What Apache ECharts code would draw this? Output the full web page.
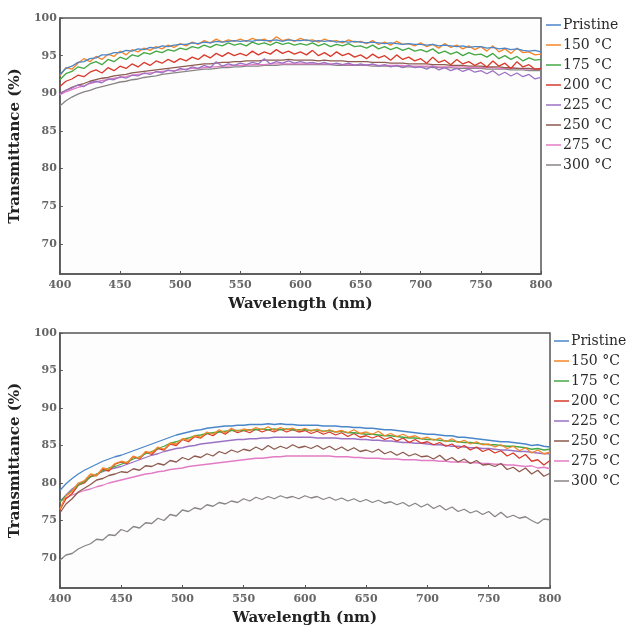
<!DOCTYPE html>
<html><head><meta charset="utf-8">
<script src="https://cdn.jsdelivr.net/npm/echarts@6/dist/echarts.min.js"></script>
<style>html,body{margin:0;padding:0;background:#fff}#c{width:630px;height:629px}</style>
</head><body><div id="c"></div>
<script>
const wavelengths = [400,405,410,415,420,425,430,435,440,445,450,455,460,465,470,475,480,485,490,495,500,505,510,515,520,525,530,535,540,545,550,555,560,565,570,575,580,585,590,595,600,605,610,615,620,625,630,635,640,645,650,655,660,665,670,675,680,685,690,695,700,705,710,715,720,725,730,735,740,745,750,755,760,765,770,775,780,785,790,795,800];
const seriesNames = ['Pristine','150 °C','175 °C','200 °C','225 °C','250 °C','275 °C','300 °C'];
const xTicks = [400,450,500,550,600,650,700,750,800];
const yTicks = [70,75,80,85,90,95,100];

// Top panel
const topPristine = [92.5,93.3,93.6,94.1,94.2,94.6,94.7,95.1,95.1,95.4, 95.4,95.7,95.6,95.9,95.8,96.1,96.0,96.3,96.2,96.4, 96.5,96.5,96.7,96.6,96.8,96.7,96.9,96.8,96.9,97.0, 96.9,97.0,96.9,97.1,97.0,97.0,97.1,96.9,97.1,97.0, 97.0,97.1,96.9,97.0,96.9,97.0,96.8,96.9,96.8,96.9, 96.8,96.7,96.8,96.7,96.6,96.7,96.6,96.5,96.6,96.5, 96.5,96.4,96.5,96.3,96.4,96.3,96.2,96.3,96.1,96.2, 96.2,96.0,96.1,95.9,96.0,95.8,95.9,95.7,95.6,95.7, 95.5];
const top150 = [92.3,93.4,93.2,94.0,94.6,94.2,94.9,94.5,95.2,94.9, 95.6,95.1,95.8,95.5,96.0,95.7,96.2,95.9,96.4,96.1, 96.6,96.3,96.8,96.5,97.0,96.7,97.2,96.8,97.1,96.9, 97.2,96.9,97.3,97.0,97.2,96.8,97.5,97.0,97.2,96.9, 97.3,97.0,97.1,96.8,97.2,96.9,97.0,96.7,97.1,96.8, 96.9,96.6,97.0,96.5,96.8,96.4,96.9,96.5,96.6,96.3, 96.7,96.2,96.5,96.0,96.6,96.1,96.4,95.9,96.3,95.8, 96.2,95.6,96.3,95.5,95.9,95.3,96.0,95.4,95.5,95.1, 95.2];
const top175 = [91.8,92.6,92.9,93.5,93.3,93.9,94.2,93.8,94.5,94.2, 94.8,94.5,95.1,94.9,95.4,95.2,95.6,95.4,95.8,95.6, 96.0,95.8,96.2,96.0,96.4,96.1,96.5,96.3,96.7,96.4, 96.6,96.3,96.8,96.5,96.7,96.4,96.8,96.5,96.7,96.4, 96.6,96.4,96.7,96.3,96.6,96.2,96.5,96.3,96.6,96.2, 96.3,96.0,96.4,95.9,96.2,95.8,96.1,95.7,96.0,95.6, 95.8,95.5,95.9,95.3,95.6,95.2,95.5,95.0,95.4,95.1, 95.2,94.8,95.3,94.6,95.0,94.5,94.9,94.3,94.7,94.4, 94.5];
const top200 = [90.9,91.6,91.9,92.4,92.2,92.8,93.1,92.7,93.4,93.0, 93.6,93.3,93.9,93.5,94.1,93.7,94.3,94.0,94.5,94.1, 94.6,94.3,94.8,94.5,95.1,94.7,95.3,94.9,95.4,95.0, 95.3,95.0,95.6,95.1,95.5,95.2,95.8,95.3,95.6,95.2, 95.5,95.1,95.7,95.0,95.4,94.9,95.5,95.0,95.3,94.8, 95.1,94.6,95.2,94.7,95.0,94.4,95.1,94.5,94.8,94.3, 94.6,94.0,94.8,94.1,94.4,93.8,94.5,93.9,94.2,93.7, 94.1,93.5,94.3,93.6,94.0,93.3,94.2,93.5,93.8,93.2, 93.3];
const top225 = [89.9,90.4,90.7,91.1,90.9,91.4,91.6,91.4,91.9,91.8, 92.2,92.0,92.4,92.3,92.7,92.5,92.9,92.7,93.1,92.9, 93.3,93.1,93.5,93.3,93.7,93.4,94.2,93.6,93.9,93.7, 94.0,93.8,94.1,93.9,94.6,93.9,94.2,94.0,94.3,94.0, 94.2,94.0,94.1,93.9,94.1,93.8,94.0,93.8,94.0,93.7, 93.9,93.7,93.9,93.6,93.8,93.5,93.7,93.4,93.7,93.4, 93.5,93.2,93.6,93.1,93.4,93.0,93.3,92.9,93.2,92.8, 93.0,92.6,93.0,92.4,92.8,92.3,92.7,92.2,92.5,91.9, 92.1];
const top250 = [90.0,90.4,90.8,91.1,91.3,91.6,91.8,92.0,92.1,92.3, 92.4,92.5,92.7,92.8,92.9,93.0,93.1,93.2,93.3,93.4, 93.5,93.6,93.7,93.8,93.9,93.9,94.0,94.1,94.1,94.2, 94.2,94.3,94.3,94.3,94.4,94.4,94.4,94.4,94.5,94.4, 94.4,94.4,94.4,94.3,94.4,94.3,94.3,94.3,94.2,94.2, 94.2,94.2,94.1,94.1,94.1,94.0,94.0,94.0,93.9,93.9, 93.9,93.9,93.8,93.8,93.8,93.7,93.7,93.7,93.6,93.6, 93.6,93.5,93.5,93.5,93.4,93.4,93.3,93.3,93.3,93.2, 93.2];
const top275 = [89.8,90.2,90.5,90.8,91.0,91.3,91.5,91.7,91.8,92.0, 92.1,92.2,92.4,92.5,92.6,92.7,92.8,92.9,93.0,93.0, 93.1,93.2,93.3,93.3,93.4,93.5,93.5,93.6,93.6,93.7, 93.7,93.7,93.8,93.8,93.8,93.9,93.9,93.9,93.9,93.9, 93.9,93.9,93.9,93.9,93.9,93.9,93.9,93.8,93.8,93.8, 93.8,93.8,93.8,93.7,93.7,93.7,93.7,93.7,93.6,93.6, 93.6,93.6,93.6,93.5,93.5,93.5,93.5,93.5,93.4,93.4, 93.4,93.4,93.4,93.3,93.3,93.3,93.3,93.2,93.2,93.2, 93.2];
const top300 = [88.3,89.0,89.5,89.9,90.2,90.4,90.7,90.9,91.1,91.3, 91.5,91.6,91.8,91.9,92.1,92.2,92.3,92.5,92.6,92.7, 92.8,92.9,93.0,93.1,93.2,93.2,93.3,93.4,93.4,93.5, 93.5,93.6,93.6,93.6,93.7,93.7,93.7,93.8,93.8,93.8, 93.8,93.8,93.8,93.8,93.8,93.8,93.7,93.7,93.7,93.7, 93.7,93.7,93.6,93.6,93.6,93.6,93.6,93.5,93.5,93.5, 93.5,93.5,93.4,93.4,93.4,93.4,93.3,93.3,93.3,93.3, 93.3,93.2,93.2,93.2,93.2,93.1,93.1,93.1,93.0,93.0, 93.0];

// Bottom panel
const botPristine = [79.0,79.9,80.6,81.2,81.7,82.1,82.5,82.9,83.2,83.5, 83.7,84.0,84.3,84.6,84.9,85.2,85.5,85.8,86.1,86.4, 86.6,86.8,87.0,87.1,87.3,87.4,87.5,87.6,87.6,87.7, 87.7,87.8,87.8,87.8,87.9,87.8,87.9,87.8,87.8,87.7, 87.7,87.7,87.7,87.6,87.6,87.6,87.5,87.5,87.4,87.4, 87.3,87.3,87.2,87.1,87.1,87.0,86.9,86.8,86.7,86.6, 86.5,86.5,86.4,86.3,86.3,86.1,86.1,86.0,85.9,85.8, 85.7,85.6,85.5,85.5,85.4,85.3,85.2,85.0,85.1,84.9, 84.8];
const bot150 = [76.5,78.3,78.9,80.0,80.3,81.2,81.0,82.0,81.8,82.6, 82.9,82.7,83.6,83.3,84.2,84.0,84.8,84.5,85.3,85.2, 85.9,85.7,86.3,86.1,86.8,86.5,87.1,86.7,87.3,86.9, 87.2,87.0,87.4,87.1,87.5,87.0,87.4,87.1,87.3,87.0, 87.3,86.9,87.2,86.8,87.1,86.8,87.0,86.7,87.1,86.6, 86.8,86.5,86.9,86.3,86.6,86.2,86.5,86.1,86.3,85.9, 86.1,85.7,86.0,85.5,85.9,85.4,85.7,85.2,85.5,85.1, 85.2,84.8,85.1,84.6,84.9,84.3,84.7,84.0,84.4,83.9, 84.1];
const bot175 = [77.5,78.3,79.0,79.7,80.2,80.8,81.2,81.6,82.0,82.2, 82.5,82.8,83.2,83.5,83.9,84.2,84.6,84.9,85.3,85.5, 85.8,86.0,86.3,86.4,86.6,86.7,86.8,86.9,87.0,87.0, 87.0,87.1,87.1,87.2,87.1,87.2,87.1,87.2,87.1,87.1, 87.1,87.0,87.1,86.9,87.0,86.8,86.9,86.7,86.7,86.6, 86.5,86.5,86.4,86.3,86.3,86.2,86.1,86.0,86.0,85.9, 85.8,85.8,85.7,85.6,85.6,85.5,85.4,85.4,85.3,85.2, 85.1,85.1,85.0,84.9,84.9,84.8,84.7,84.5,84.6,84.4, 84.5];
const bot200 = [76.4,77.9,78.6,79.7,80.0,80.9,81.0,81.8,81.6,82.5, 82.8,82.6,83.5,83.2,84.1,83.8,84.6,84.4,85.2,85.0, 85.8,85.5,86.2,86.0,86.6,86.3,86.9,86.5,87.1,86.7, 87.0,86.7,87.2,86.8,87.1,86.8,87.2,86.8,87.1,86.8, 87.0,86.6,86.9,86.5,86.8,86.4,86.7,86.2,86.6,86.1, 86.3,86.0,86.3,85.8,86.1,85.6,86.0,85.4,85.8,85.3, 85.5,85.1,85.4,84.9,85.2,84.6,85.0,84.4,84.8,84.2, 84.5,84.0,84.3,83.6,84.0,83.3,83.8,82.9,83.1,82.4, 83.0];
const bot225 = [77.5,78.4,79.2,79.8,80.3,80.8,81.2,81.5,81.8,82.0, 82.2,82.5,82.8,83.1,83.4,83.7,83.9,84.2,84.4,84.6, 84.7,84.9,85.0,85.2,85.3,85.4,85.5,85.6,85.7,85.8, 85.8,85.9,85.9,86.0,86.0,86.1,86.1,86.1,86.1,86.1, 86.1,86.1,86.0,86.0,86.0,86.0,85.9,85.9,85.9,85.8, 85.8,85.7,85.7,85.6,85.6,85.5,85.4,85.4,85.3,85.3, 85.2,85.1,85.1,85.0,84.9,84.9,84.8,84.7,84.7,84.6, 84.6,84.5,84.4,84.4,84.3,84.2,84.2,84.1,84.0,83.9, 83.9];
const bot250 = [76.0,77.2,77.9,78.8,79.3,79.8,80.4,80.6,81.0,81.2, 81.5,81.4,81.9,81.7,82.3,82.2,82.6,82.4,83.0,82.8, 83.4,83.1,83.6,83.4,83.9,83.6,84.2,83.9,84.4,84.1, 84.5,84.3,84.8,84.4,85.0,84.5,84.9,84.6,85.1,84.7, 84.9,84.6,85.0,84.5,84.9,84.4,84.8,84.3,84.7,84.2, 84.4,84.1,84.5,83.9,84.2,83.7,84.1,83.6,83.9,83.5, 83.6,83.2,83.7,83.0,83.4,82.8,83.2,82.6,83.0,82.4, 82.5,82.2,82.6,81.8,82.1,81.5,82.0,81.2,81.7,80.9, 81.3];
const bot275 = [77.5,78.0,78.4,78.7,79.0,79.2,79.5,79.7,80.0,80.2, 80.4,80.6,80.8,81.0,81.2,81.3,81.5,81.6,81.8,81.9, 82.0,82.2,82.3,82.4,82.5,82.6,82.7,82.8,82.9,83.0, 83.1,83.2,83.3,83.3,83.4,83.5,83.5,83.6,83.6,83.6, 83.6,83.6,83.6,83.6,83.6,83.5,83.5,83.5,83.4,83.4, 83.3,83.3,83.3,83.2,83.2,83.2,83.1,83.1,83.1,83.0, 83.0,83.0,82.9,82.9,82.8,82.8,82.8,82.7,82.7,82.6, 82.6,82.5,82.5,82.4,82.4,82.3,82.2,82.3,82.0,82.1, 81.9];
const bot300 = [69.7,70.4,70.6,71.2,71.6,71.9,72.5,72.4,73.1,73.0, 73.8,73.5,74.2,74.0,74.7,74.6,75.3,75.0,75.8,75.6, 76.4,76.2,76.7,76.5,77.1,76.9,77.4,77.2,77.6,77.4, 77.9,77.6,78.1,77.8,78.2,77.9,78.3,78.0,78.2,77.9, 78.3,78.0,78.2,77.8,78.1,77.7,78.0,77.6,77.9,77.5, 77.8,77.4,77.7,77.3,77.5,77.1,77.4,76.9,77.3,76.8, 77.2,76.6,77.0,76.4,76.8,76.2,76.5,76.0,76.3,75.8, 76.2,75.5,76.1,75.4,75.7,75.3,75.5,75.0,74.6,75.2, 75.1];

const topSets = [topPristine, top150, top175, top200, top225, top250, top275, top300];
const botSets = [botPristine, bot150, bot175, bot200, bot225, bot250, bot275, bot300];
const colors = ['#4a86c8','#f5862a','#45a845','#d93a2b','#9b72c4','#8c5a4e','#e27cc4','#8a8585'];

const tickFont = {fontFamily:'DejaVu Serif', fontSize:11, color:'#666', fontWeight:'bold'};
const nameFont = {fontFamily:'DejaVu Serif', fontSize:15, fontWeight:'bold', color:'#222'};
const axisLineStyle = {lineStyle:{color:'#555', width:1.5}};

function xAx(gi){
  return {type:'value', gridIndex:gi, min:400, max:800, interval:50,
    name:'Wavelength (nm)', nameLocation:'middle', nameGap:23, nameTextStyle:nameFont,
    axisLine:axisLineStyle, axisTick:{inside:true, length:3, lineStyle:{color:'#555'}},
    axisLabel:Object.assign({margin:6}, tickFont), splitLine:{show:false}};
}
function yAx(gi){
  return {type:'value', gridIndex:gi, min:66, max:100,
    name:'Transmittance (%)', nameLocation:'middle', nameGap:26, nameTextStyle:nameFont,
    axisLine:axisLineStyle,
    axisTick:{inside:true, length:3, customValues:yTicks, lineStyle:{color:'#555'}},
    axisLabel:Object.assign({margin:3, customValues:yTicks}, tickFont), splitLine:{show:false}};
}

const series = [];
topSets.forEach((vals, k) => {
  series.push({type:'line', name:seriesNames[k], xAxisIndex:0, yAxisIndex:0, symbol:'none',
    lineStyle:{width:1.3, color:colors[k]}, itemStyle:{color:colors[k]},
    data: wavelengths.map((w,i)=>[w, vals[i]]), z: 10-k});
});
botSets.forEach((vals, k) => {
  series.push({type:'line', name:seriesNames[k], xAxisIndex:1, yAxisIndex:1, symbol:'none',
    lineStyle:{width:1.3, color:colors[k]}, itemStyle:{color:colors[k]},
    data: wavelengths.map((w,i)=>[w, vals[i]]), z: 10-k});
});

const legendBase = {orient:'vertical', data:seriesNames, icon:'rect', itemWidth:15, itemHeight:1.5, itemGap:6,
  textStyle:{fontFamily:'DejaVu Serif', fontSize:14, color:'#2a2a2a', padding:[0,0,0,-3]}, padding:0};

const chart = echarts.init(document.getElementById('c'), null, {renderer:'canvas'});
chart.setOption({
  animation:false,
  backgroundColor:'#ffffff',
  grid:[
    {left:56, top:18, width:485, height:256, show:true, borderColor:'#555', borderWidth:1.5, backgroundColor:'#fdfdfd'},
    {left:56, top:333, width:494, height:255, show:true, borderColor:'#555', borderWidth:1.5, backgroundColor:'#fdfdfd'}
  ],
  xAxis:[xAx(0), xAx(1)],
  yAxis:[yAx(0), yAx(1)],
  legend:[
    Object.assign({left:546, top:18}, legendBase),
    Object.assign({left:554, top:334}, legendBase)
  ],
  series: series
});
</script></body></html>
